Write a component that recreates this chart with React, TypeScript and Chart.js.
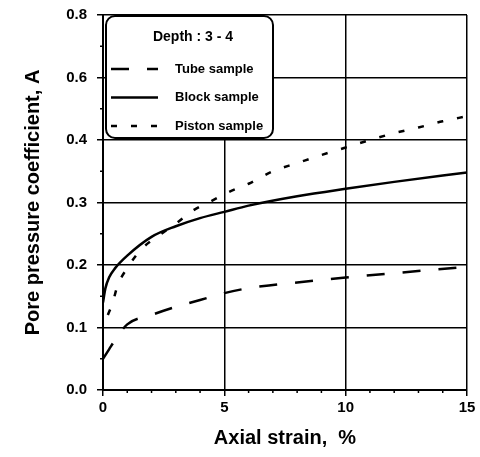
import React, { useEffect, useRef } from "react";
import { Chart, registerables } from "chart.js";

Chart.register(...registerables);

// Axial strain (%) and pore pressure coefficient A for each sample type
const tubeStrain = [0, 0.25, 0.5, 1, 2, 3, 4, 5, 6, 7, 8, 10, 12, 15];
const tubeA = [0.05, 0.065, 0.08, 0.105, 0.12, 0.133, 0.144, 0.155, 0.163, 0.168, 0.172, 0.18, 0.187, 0.197];

const blockStrain = [0, 0.1, 0.25, 0.5, 1, 2, 3, 4, 5, 6, 8, 10, 12, 15];
const blockA = [0.14, 0.163, 0.18, 0.195, 0.215, 0.245, 0.262, 0.275, 0.285, 0.295, 0.31, 0.322, 0.333, 0.348];

const pistonStrain = [0.2, 0.4, 0.6, 1, 1.6, 2.3, 3, 3.7, 4.5, 5.2, 6, 7, 8, 9, 10, 11, 12, 13, 14, 15];
const pistonA = [0.12, 0.14, 0.167, 0.195, 0.226, 0.247, 0.266, 0.287, 0.303, 0.317, 0.33, 0.35, 0.363, 0.376, 0.388, 0.4, 0.411, 0.42, 0.43, 0.438];

const seriesNames = ["Tube sample", "Block sample", "Piston sample"];
const legendTitle = "Depth : 3 - 4";

const yTickLabels = ["0.0", "0.1", "0.2", "0.3", "0.4", "0.6", "0.8"];
const xTickValues = [0, 5, 10, 15];

const FONT = "'Liberation Sans', Arial, sans-serif";

const toPoints = (xs: number[], ys: number[]) => xs.map((x, i) => ({ x, y: ys[i] }));

// Small minor tick marks along the bottom and left axes
const minorTicks = {
  id: "minorTicks",
  afterDraw(chart: any) {
    const { ctx, chartArea, scales } = chart;
    ctx.save();
    ctx.strokeStyle = "#000";
    ctx.lineWidth = 1.5;
    for (let v = 1; v < 15; v++) {
      if (v % 5 === 0) continue;
      const px = scales.x.getPixelForValue(v);
      ctx.beginPath();
      ctx.moveTo(px, chartArea.bottom);
      ctx.lineTo(px, chartArea.bottom + 3);
      ctx.stroke();
    }
    for (let v = 0.05; v < 0.6; v += 0.1) {
      const py = scales.y.getPixelForValue(v);
      ctx.beginPath();
      ctx.moveTo(chartArea.left, py);
      ctx.lineTo(chartArea.left - 3, py);
      ctx.stroke();
    }
    ctx.restore();
  },
};

// Rounded legend box in the upper-left corner of the plot
const boxLegend = {
  id: "boxLegend",
  afterDatasetsDraw(chart: any) {
    const { ctx, chartArea } = chart;
    const left = chartArea.left + 3;
    const top = chartArea.top + 1;
    const w = 167;
    const h = 122;
    ctx.save();
    ctx.fillStyle = "#fff";
    ctx.strokeStyle = "#000";
    ctx.lineWidth = 2;
    ctx.beginPath();
    ctx.roundRect(left, top, w, h, 9);
    ctx.fill();
    ctx.stroke();

    ctx.fillStyle = "#000";
    ctx.textBaseline = "middle";
    ctx.textAlign = "center";
    ctx.font = `bold 14px ${FONT}`;
    ctx.fillText(legendTitle, left + 87, top + 21);

    ctx.textAlign = "left";
    ctx.font = `bold 13px ${FONT}`;
    chart.data.datasets.forEach((ds: any, i: number) => {
      const y = top + 53 + i * 28.5;
      ctx.save();
      ctx.lineWidth = ds.borderWidth;
      ctx.setLineDash(ds.borderDash || []);
      ctx.beginPath();
      ctx.moveTo(left + 5, y);
      ctx.lineTo(left + 52, y);
      ctx.stroke();
      ctx.restore();
      ctx.fillText(ds.label, left + 69, y);
    });
    ctx.restore();
  },
};

export default function App() {
  const canvasRef = useRef<HTMLCanvasElement | null>(null);

  useEffect(() => {
    if (!canvasRef.current) return;
    const chart = new Chart(canvasRef.current, {
      type: "line",
      data: {
        datasets: [
          {
            label: seriesNames[0],
            data: toPoints(tubeStrain, tubeA),
            borderColor: "#000",
            borderWidth: 2.5,
            borderDash: [18, 18],
            pointRadius: 0,
            cubicInterpolationMode: "monotone",
          },
          {
            label: seriesNames[1],
            data: toPoints(blockStrain, blockA),
            borderColor: "#000",
            borderWidth: 2.5,
            pointRadius: 0,
            cubicInterpolationMode: "monotone",
          },
          {
            label: seriesNames[2],
            data: toPoints(pistonStrain, pistonA),
            borderColor: "#000",
            borderWidth: 2.5,
            borderDash: [6, 14],
            pointRadius: 0,
            cubicInterpolationMode: "monotone",
          },
        ],
      },
      options: {
        animation: false,
        responsive: false,
        layout: { padding: { top: 15, right: 13, left: 0, bottom: 0 } },
        plugins: {
          legend: { display: false },
          tooltip: { enabled: false },
        },
        scales: {
          x: {
            type: "linear",
            min: 0,
            max: 15,
            afterBuildTicks: (s: any) => {
              s.ticks = xTickValues.map((v) => ({ value: v }));
            },
            afterFit: (s: any) => {
              s.height = 67;
              s.paddingLeft = 0;
              s.paddingRight = 0;
            },
            ticks: {
              color: "#000",
              font: { family: FONT, size: 15, weight: "bold" },
              padding: 3,
              maxRotation: 0,
            },
            grid: {
              color: "#000",
              lineWidth: 1.5,
              tickLength: 6,
              tickColor: "#000",
            },
            border: { display: true, color: "#000", width: 2 },
            title: {
              display: true,
              text: "Axial strain,  %",
              color: "#000",
              font: { family: FONT, size: 20, weight: "bold" },
              padding: { top: 0, bottom: 7 },
            },
          },
          y: {
            type: "linear",
            min: 0,
            max: 0.6,
            afterFit: (s: any) => {
              s.width = 103;
              s.paddingTop = 0;
              s.paddingBottom = 0;
            },
            ticks: {
              stepSize: 0.1,
              color: "#000",
              font: { family: FONT, size: 15, weight: "bold" },
              padding: 10,
              callback: (_v: any, i: number) => yTickLabels[i],
            },
            grid: {
              color: "#000",
              lineWidth: 1.5,
              tickLength: 6,
              tickColor: "#000",
            },
            border: { display: true, color: "#000", width: 2 },
            title: {
              display: true,
              text: "Pore pressure coefficient, A",
              color: "#000",
              font: { family: FONT, size: 20, weight: "bold" },
              padding: { top: 21, bottom: 0 },
            },
          },
        },
      },
      plugins: [minorTicks, boxLegend],
    } as any);
    return () => chart.destroy();
  }, []);

  return (
    <div style={{ position: "fixed", left: 0, top: 0, width: 480, height: 457, background: "#fff" }}>
      <canvas ref={canvasRef} width={480} height={457} style={{ display: "block" }} />
    </div>
  );
}
